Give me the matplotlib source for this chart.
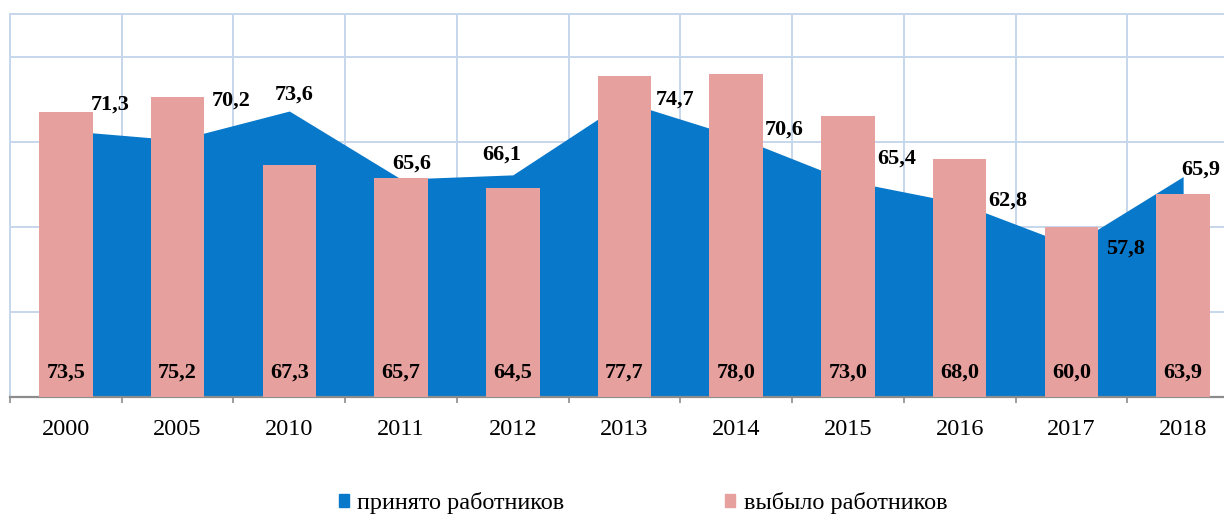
import numpy as np
import matplotlib
matplotlib.use("Agg")
import matplotlib.pyplot as plt
from matplotlib.patches import Patch

plt.rcParams['font.family'] = ['Liberation Serif', 'DejaVu Serif']

years = ['2000', '2005', '2010', '2011', '2012', '2013', '2014', '2015', '2016', '2017', '2018']
hired = [71.3, 70.2, 73.6, 65.6, 66.1, 74.7, 70.6, 65.4, 62.8, 57.8, 65.9]
left = [73.5, 75.2, 67.3, 65.7, 64.5, 77.7, 78.0, 73.0, 68.0, 60.0, 63.9]

# hand placed label offsets (pixels, y up) for the area series, like in the original
hired_offsets = [(44, 26), (54, 39), (5, 16), (11, 16), (-11, 20), (51, 2),
                 (48, 7), (49, 22), (48, 2), (54, -3), (18, 7)]

blue = '#0878CA'
pink = '#E6A09E'
grid_col = '#C6D6EC'
axis_col = '#8C8C8C'

fig = plt.figure(figsize=(12.24, 5.18), dpi=100)
ax = fig.add_axes([10 / 1224, 121 / 518, 1229 / 1224, 383 / 518])

x = np.arange(len(years))
ax.fill_between(x, 40, hired, color=blue, linewidth=0, zorder=2)
ax.bar(x, left, width=0.48, bottom=0, color=pink, zorder=3)

ax.set_xlim(-0.5, len(years) - 0.5)
ax.set_ylim(40, 85)

fmt = lambda v: f"{v:.1f}".replace('.', ',')
for i, v in enumerate(left):
    ax.annotate(fmt(v), (x[i], 40), xytext=(0, 24), textcoords='offset pixels',
                ha='center', va='center', fontsize=16, fontweight='bold', zorder=5)
for i, v in enumerate(hired):
    ax.annotate(fmt(v), (x[i], v), xytext=hired_offsets[i], textcoords='offset pixels',
                ha='center', va='center', fontsize=16, fontweight='bold', zorder=5)

# grid
ax.set_axisbelow(True)
ax.set_yticks([50, 60, 70, 80])
ax.yaxis.grid(True, color=grid_col, linewidth=1.4)
ax.tick_params(axis='y', left=False, labelleft=False)
ax.set_xticks(x)
ax.set_xticklabels(years, fontsize=17.5)
ax.set_xticks(np.arange(len(years) + 1) - 0.5, minor=True)
ax.xaxis.grid(True, which='minor', color=grid_col, linewidth=1.4)
ax.tick_params(axis='x', which='major', length=0, pad=16)
ax.tick_params(axis='x', which='minor', direction='inout', length=9, width=1.2, color=axis_col)

for s in ['top', 'left']:
    ax.spines[s].set_color(grid_col)
    ax.spines[s].set_linewidth(1.4)
ax.spines['right'].set_visible(False)
ax.spines['bottom'].set_color(axis_col)
ax.spines['bottom'].set_linewidth(1.6)

handles = [Patch(color=blue, label='принято работников'),
           Patch(color=pink, label='выбыло работников')]
fig.legend(handles=handles, loc='center', bbox_to_anchor=(643 / 1224, 15 / 518), ncol=2,
           frameon=False, fontsize=17.5, handlelength=0.42, handleheight=0.48,
           handletextpad=0.35, columnspacing=6.6, borderpad=0)

fig.savefig('out.png', dpi=100)
